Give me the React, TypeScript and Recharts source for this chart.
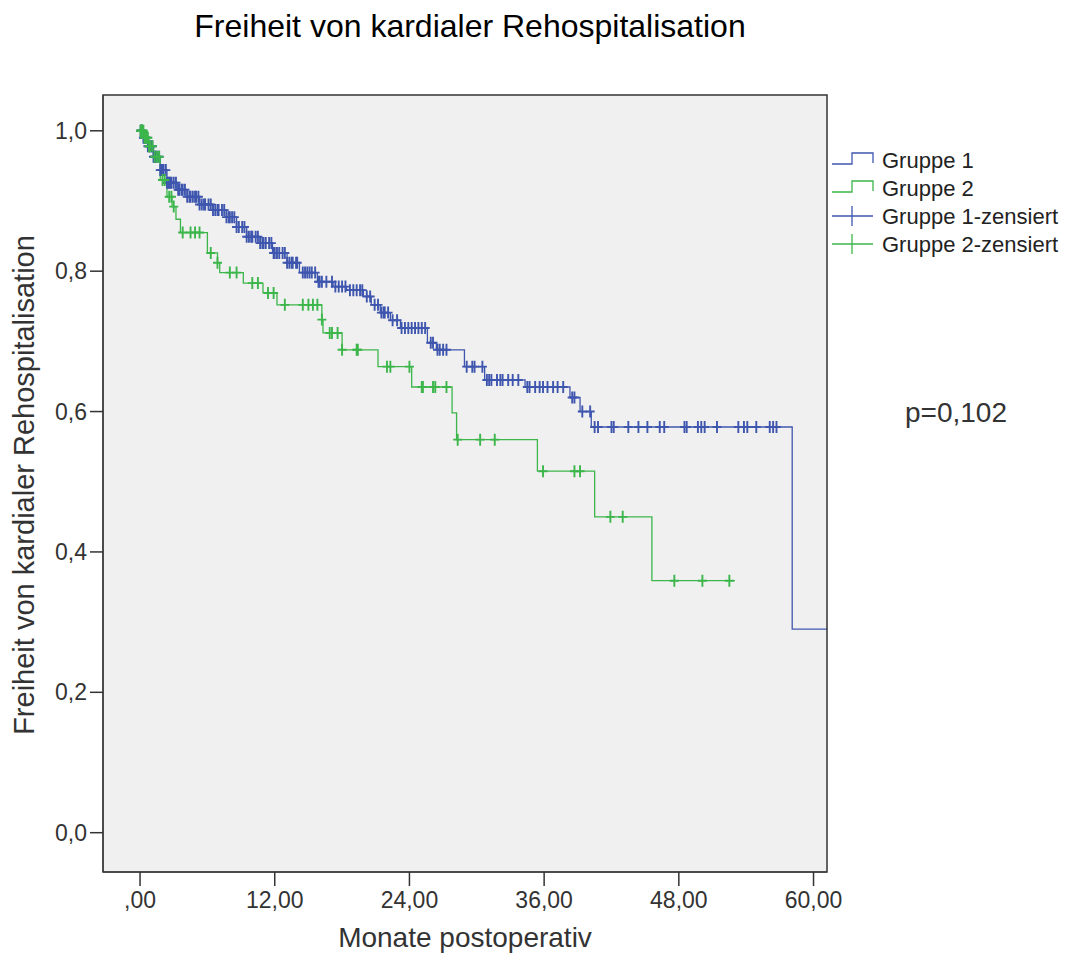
import React from 'react';
import { ComposedChart, Line, Scatter, XAxis, YAxis, CartesianGrid } from 'recharts';

const FONT = '"Liberation Sans", Arial, sans-serif';
const BLUE = '#3f56ae';
const GREEN = '#3cb64b';

// Kaplan-Meier steps (month, survival)
const group1Steps = [
  { t: 0, s: 1.0 }, { t: 0.3, s: 0.99 }, { t: 0.7, s: 0.978 }, { t: 1.2, s: 0.963 },
  { t: 1.8, s: 0.944 }, { t: 2.4, s: 0.926 }, { t: 3.3, s: 0.916 }, { t: 4.2, s: 0.906 },
  { t: 5.3, s: 0.895 }, { t: 6.5, s: 0.887 }, { t: 7.7, s: 0.877 }, { t: 8.6, s: 0.863 },
  { t: 9.5, s: 0.849 }, { t: 10.7, s: 0.84 }, { t: 11.8, s: 0.826 }, { t: 13.1, s: 0.812 },
  { t: 14.2, s: 0.798 }, { t: 15.8, s: 0.785 }, { t: 17.2, s: 0.778 }, { t: 18.4, s: 0.773 },
  { t: 19.9, s: 0.764 }, { t: 20.6, s: 0.752 }, { t: 21.4, s: 0.741 }, { t: 22.3, s: 0.73 },
  { t: 23.2, s: 0.719 }, { t: 25.6, s: 0.698 }, { t: 26.4, s: 0.688 }, { t: 28.9, s: 0.664 },
  { t: 30.7, s: 0.645 }, { t: 34.3, s: 0.635 }, { t: 38.3, s: 0.62 }, { t: 39.2, s: 0.6 },
  { t: 40.2, s: 0.578 }, { t: 58.1, s: 0.29 }, { t: 61.2, s: 0.29 },
];

const group2Steps = [
  { t: 0, s: 1.0 }, { t: 0.4, s: 0.99 }, { t: 0.8, s: 0.978 }, { t: 1.2, s: 0.963 },
  { t: 1.8, s: 0.93 }, { t: 2.4, s: 0.906 }, { t: 2.85, s: 0.892 }, { t: 3.2, s: 0.874 },
  { t: 3.6, s: 0.855 }, { t: 6.0, s: 0.826 }, { t: 6.9, s: 0.812 }, { t: 7.1, s: 0.798 },
  { t: 9.2, s: 0.783 }, { t: 10.95, s: 0.769 }, { t: 12.2, s: 0.752 }, { t: 16.2, s: 0.731 },
  { t: 16.3, s: 0.712 }, { t: 18.0, s: 0.688 }, { t: 21.2, s: 0.664 }, { t: 24.2, s: 0.635 },
  { t: 27.8, s: 0.598 }, { t: 28.2, s: 0.56 }, { t: 35.4, s: 0.515 }, { t: 40.5, s: 0.45 },
  { t: 45.6, s: 0.359 }, { t: 53.0, s: 0.359 },
];

// censoring times (months)
const group1Censored = [
  0.05, 0.1, 0.15, 0.2, 0.3, 0.4, 0.5, 0.6, 0.7, 0.8, 0.9, 1.0, 1.1, 1.2, 1.3, 1.4, 1.5,
  1.7, 1.8, 1.9, 2.0, 2.1, 2.3, 2.4, 2.5, 2.6, 2.7, 2.8, 3.0, 3.2, 3.4, 3.5, 3.7, 3.8, 4.0,
  4.2, 4.4, 4.5, 4.7, 4.9, 5.0, 5.2, 5.3, 5.5, 5.7, 5.8, 6.1, 6.3, 6.5, 6.7, 6.9, 7.0, 7.3,
  7.5, 7.7, 7.9, 8.0, 8.2, 8.4, 8.6, 8.8, 9.1, 9.3, 9.5, 9.7, 9.9, 10.0, 10.3, 10.5, 10.7,
  10.9, 11.0, 11.2, 11.5, 11.7, 11.9, 12.0, 12.2, 12.4, 12.7, 12.9, 13.1, 13.3, 13.5, 13.6,
  13.9, 14.0, 14.5, 14.7, 14.9, 15.1, 15.3, 15.6, 15.9, 16.0, 16.2, 16.6, 17.1, 17.4, 17.7,
  18.0, 18.3, 18.7, 19.0, 19.3, 19.6, 19.8, 20.2, 20.5, 20.9, 21.2, 21.5, 21.7, 21.8, 22.1,
  22.5, 22.9, 23.3, 23.6, 23.9, 24.2, 24.5, 24.8, 25.1, 25.4, 25.9, 26.1, 26.5, 26.7, 27.0,
  27.3, 29.1, 29.6, 29.8, 30.5, 30.9, 31.1, 31.3, 31.8, 32.1, 32.3, 32.8, 33.2, 33.7, 34.5,
  34.7, 35.2, 35.6, 35.9, 36.3, 36.8, 37.2, 37.7, 38.5, 38.7, 39.4, 40.1, 40.5, 40.8, 42.0,
  42.2, 43.5, 44.4, 45.2, 46.3, 46.7, 48.5, 48.7, 49.7, 50.0, 50.3, 51.4, 53.3, 53.8, 54.1,
  54.9, 56.1, 56.4, 56.7,
];

const group2Censored = [
  0.05, 0.1, 0.15, 0.2, 0.3, 0.4, 0.5, 0.6, 0.7, 0.8, 0.9, 1.1, 1.3, 1.5, 1.7, 2.0, 2.2,
  2.6, 2.8, 3.0, 3.8, 4.5, 4.9, 5.3, 6.3, 6.9, 8.0, 8.6, 10.0, 10.5, 11.4, 11.9, 12.9, 14.5,
  15.0, 15.4, 15.8, 16.2, 16.9, 17.1, 17.6, 18.0, 19.3, 19.4, 22.0, 22.3, 24.0, 25.1, 25.2,
  26.1, 26.3, 27.3, 28.3, 30.3, 31.6, 35.9, 38.7, 39.2, 41.9, 43.0, 47.6, 50.1, 52.5,
];

const xTicks = [0, 12, 24, 36, 48, 60];
const yTicks = [0, 0.2, 0.4, 0.6, 0.8, 1.0];

const legendItems = [
  { label: 'Gruppe 1', color: BLUE, kind: 'step' },
  { label: 'Gruppe 2', color: GREEN, kind: 'step' },
  { label: 'Gruppe 1-zensiert', color: BLUE, kind: 'cross' },
  { label: 'Gruppe 2-zensiert', color: GREEN, kind: 'cross' },
];

const survivalAt = (steps: { t: number; s: number }[], t: number) => {
  let s = steps[0].s;
  for (const p of steps) if (p.t <= t) s = p.s;
  return s;
};

const group1Marks = group1Censored.map((t) => ({ t, s: survivalAt(group1Steps, t) }));
const group2Marks = group2Censored.map((t) => ({ t, s: survivalAt(group2Steps, t) }));

const plus = (color: string) => (props: any) => {
  const { cx, cy } = props;
  return (
    <path
      d={`M${cx - 4.5},${cy}H${cx + 4.5}M${cx},${cy - 6}V${cy + 6}`}
      stroke={color}
      strokeWidth={1.9}
      fill="none"
    />
  );
};

const fmtX = (v: number) => (v === 0 ? ',00' : v.toFixed(2).replace('.', ','));
const fmtY = (v: number) => v.toFixed(1).replace('.', ',');

export default function App() {
  const W = 1055;
  const H = 946;
  return (
    <div style={{ position: 'relative', width: W, height: H, fontFamily: FONT }}>
      <ComposedChart
        width={W}
        height={H}
        margin={{ top: 87, right: 236, bottom: 32, left: 15 }}
      >
        <CartesianGrid fill="#f0f0f0" horizontal={false} vertical={false} />
        <XAxis
          type="number"
          dataKey="t"
          domain={[-3.3, 61.2]}
          allowDataOverflow
          ticks={xTicks}
          tickFormatter={fmtX}
          height={50}
          tickSize={14}
          tickMargin={6}
          axisLine={{ stroke: '#333' }}
          tickLine={{ stroke: '#333', strokeWidth: 1.5 }}
          tick={{ fill: '#333', fontSize: 23, fontFamily: FONT }}
        />
        <YAxis
          type="number"
          dataKey="s"
          domain={[-0.056, 1.051]}
          allowDataOverflow
          ticks={yTicks}
          tickFormatter={fmtY}
          width={80}
          tickSize={13}
          tickMargin={3}
          axisLine={{ stroke: '#333' }}
          tickLine={{ stroke: '#333', strokeWidth: 1.5 }}
          tick={{ fill: '#333', fontSize: 23, fontFamily: FONT }}
        />
        <Line
          data={group1Steps}
          dataKey="s"
          type="stepAfter"
          stroke={BLUE}
          strokeWidth={1.3}
          dot={false}
          activeDot={false}
          isAnimationActive={false}
        />
        <Line
          data={group2Steps}
          dataKey="s"
          type="stepAfter"
          stroke={GREEN}
          strokeWidth={1.3}
          dot={false}
          activeDot={false}
          isAnimationActive={false}
        />
        <Scatter data={group1Marks} shape={plus(BLUE)} isAnimationActive={false} />
        <Scatter data={group2Marks} shape={plus(GREEN)} isAnimationActive={false} />
      </ComposedChart>

      <svg
        width={W}
        height={H}
        style={{ position: 'absolute', left: 0, top: 0, pointerEvents: 'none' }}
        fontFamily={FONT}
      >
        <rect x={95} y={87} width={724} height={777} fill="none" stroke="#333" strokeWidth={1.5} />
        <text x={462} y={29} textAnchor="middle" fontSize={32} fill="#000">
          Freiheit von kardialer Rehospitalisation
        </text>
        <text
          transform="translate(26,477) rotate(-90)"
          textAnchor="middle"
          fontSize={29}
          fill="#333"
        >
          Freiheit von kardialer Rehospitalisation
        </text>
        <text x={457} y={939} textAnchor="middle" fontSize={28} fill="#333">
          Monate postoperativ
        </text>
        <text x={897} y={414} fontSize={28} fill="#333">
          p=0,102
        </text>
        {legendItems.map((it, i) => {
          const c = 152 + i * 28;
          return (
            <g key={it.label}>
              {it.kind === 'step' ? (
                <path
                  d={`M824,${c + 4}H844V${c - 7}H865V${c + 3}`}
                  stroke={it.color}
                  strokeWidth={1.3}
                  fill="none"
                />
              ) : (
                <path
                  d={`M824,${c}H865M844,${c - 10}V${c + 10}`}
                  stroke={it.color}
                  strokeWidth={1.3}
                  fill="none"
                />
              )}
              <text x={874} y={c + 8} fontSize={22} fill="#222">
                {it.label}
              </text>
            </g>
          );
        })}
      </svg>
    </div>
  );
}
